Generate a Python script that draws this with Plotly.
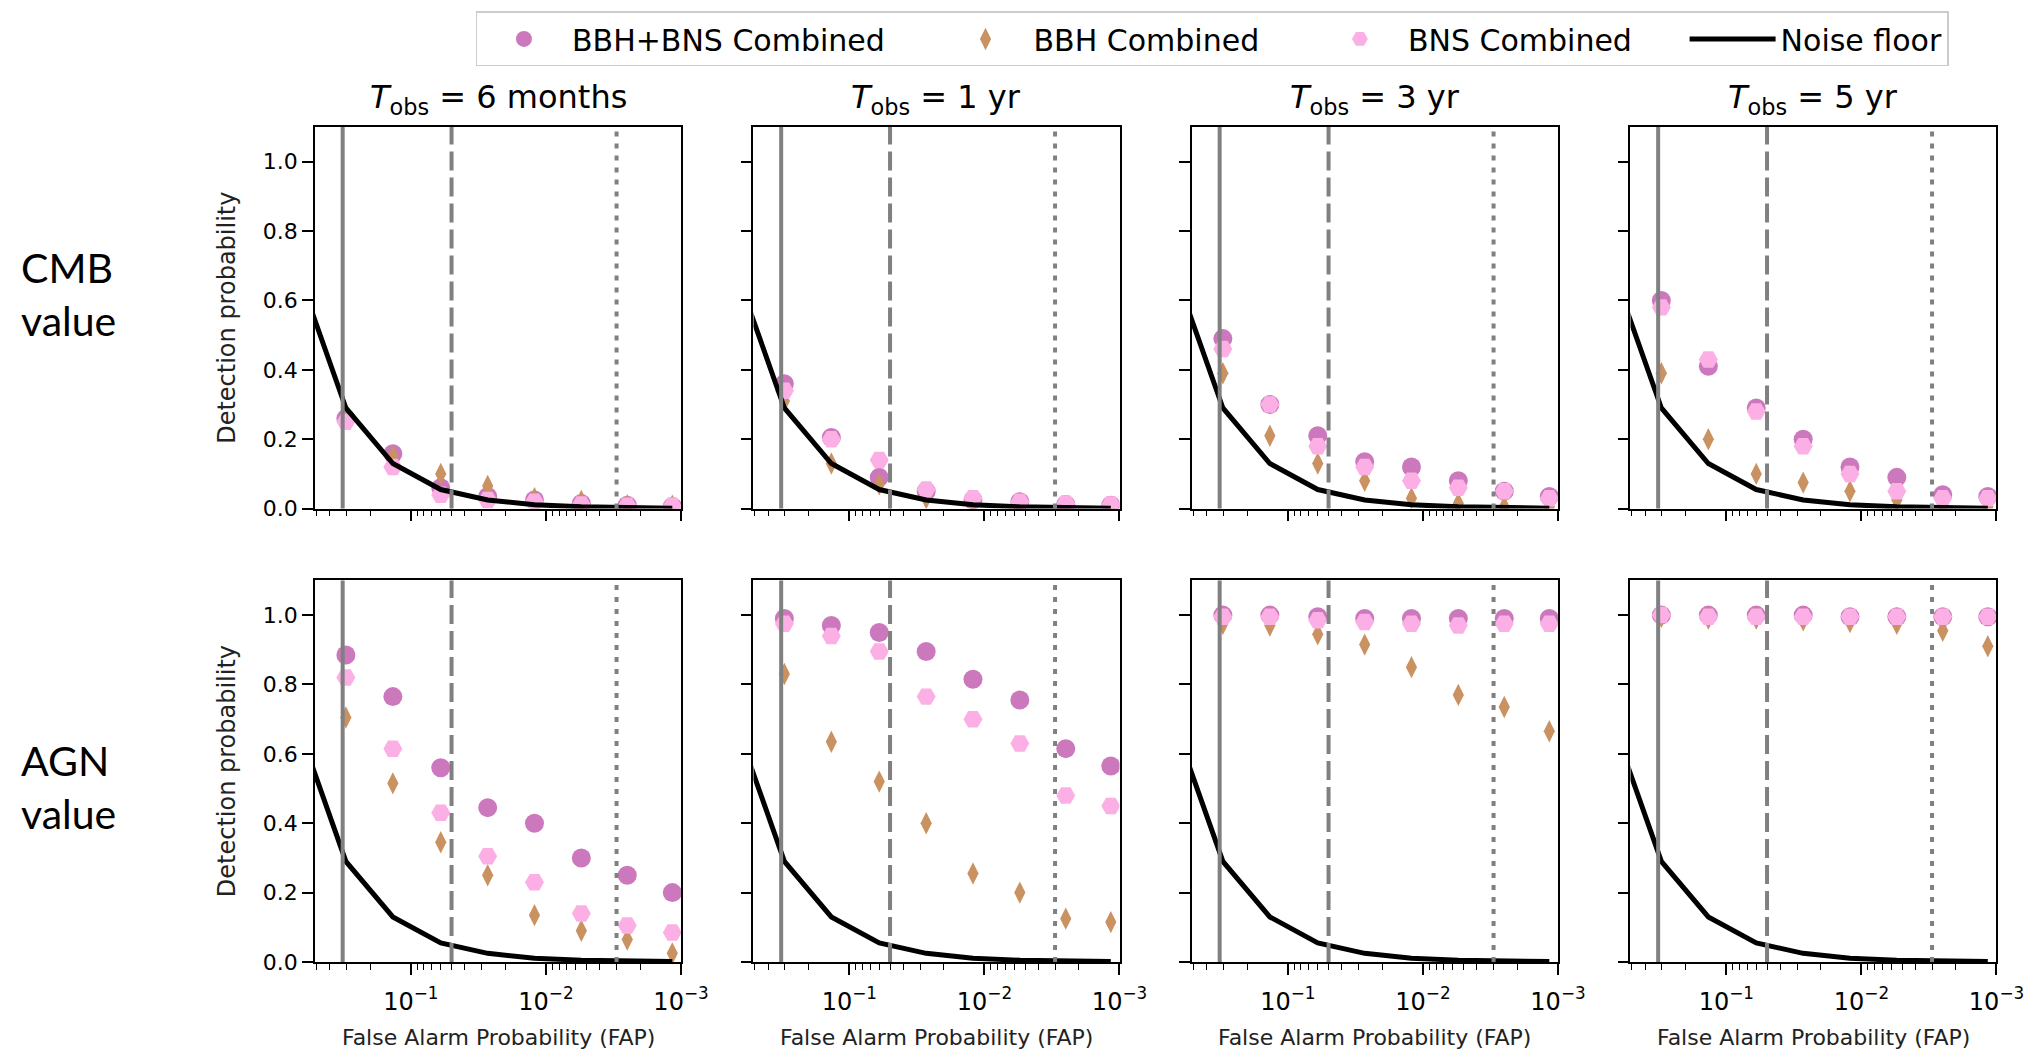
import plotly.graph_objects as go

# ---------------- data ----------------
FAP = [0.303, 0.136, 0.0601, 0.0270, 0.01216, 0.00547, 0.0025, 0.00116]
NOISE_FAP = [0.67, 0.303, 0.136, 0.0601, 0.0270, 0.01216, 0.00547, 0.0025, 0.00116]
NOISE_DP = [0.67, 0.29, 0.13, 0.055, 0.025, 0.011, 0.005, 0.0025, 0.0012]

TOBS_LABELS = ["6 months", "1 yr", "3 yr", "5 yr"]
ROW_LABELS = ["CMB<br>value", "AGN<br>value"]
SERIES_NAMES = ["BBH+BNS Combined", "BBH Combined", "BNS Combined", "Noise floor"]
SIGMA_FAP = [0.32, 0.05, 0.003]

# CMB row, one list per observation time
CMB_BBH_BNS = [
    [0.26, 0.158, 0.06, 0.035, 0.025, 0.015, 0.010, 0.006],
    [0.36, 0.205, 0.09, 0.05, 0.025, 0.02, 0.012, 0.010],
    [0.49, 0.30, 0.21, 0.135, 0.12, 0.08, 0.05, 0.035],
    [0.60, 0.41, 0.29, 0.20, 0.12, 0.09, 0.04, 0.035],
]
CMB_BBH = [
    [0.27, 0.15, 0.10, 0.065, 0.03, 0.022, 0.010, 0.008],
    [0.31, 0.13, 0.07, 0.03, 0.015, 0.010, 0.005, 0.005],
    [0.39, 0.21, 0.13, 0.08, 0.03, 0.015, 0.005, 0.005],
    [0.39, 0.20, 0.10, 0.075, 0.05, 0.025, 0.010, 0.005],
]
CMB_BNS = [
    [0.25, 0.12, 0.04, 0.025, 0.02, 0.012, 0.008, 0.008],
    [0.34, 0.20, 0.14, 0.055, 0.03, 0.02, 0.015, 0.012],
    [0.46, 0.30, 0.18, 0.12, 0.08, 0.06, 0.05, 0.03],
    [0.58, 0.43, 0.28, 0.18, 0.10, 0.05, 0.03, 0.03],
]
# AGN row
AGN_BBH_BNS = [
    [0.885, 0.765, 0.56, 0.445, 0.40, 0.30, 0.25, 0.20],
    [0.99, 0.97, 0.95, 0.895, 0.815, 0.755, 0.615, 0.565],
    [1.0, 1.0, 0.995, 0.99, 0.99, 0.99, 0.99, 0.99],
    [1.0, 1.0, 1.0, 1.0, 0.995, 0.995, 0.995, 0.995],
]
AGN_BBH = [
    [0.705, 0.515, 0.345, 0.25, 0.135, 0.09, 0.065, 0.025],
    [0.83, 0.635, 0.52, 0.40, 0.255, 0.20, 0.125, 0.115],
    [0.975, 0.97, 0.945, 0.915, 0.85, 0.77, 0.735, 0.665],
    [0.995, 0.99, 0.99, 0.985, 0.98, 0.975, 0.955, 0.91],
]
AGN_BNS = [
    [0.82, 0.615, 0.43, 0.305, 0.23, 0.14, 0.105, 0.085],
    [0.975, 0.94, 0.895, 0.765, 0.70, 0.63, 0.48, 0.45],
    [0.995, 0.995, 0.985, 0.98, 0.975, 0.97, 0.975, 0.975],
    [1.0, 0.995, 0.995, 0.995, 0.995, 0.995, 0.995, 0.995],
]

X_TICKVALS = [0.1, 0.01, 0.001]
X_TICKTEXT = ["10<sup>\u22121</sup>", "10<sup>\u22122</sup>", "10<sup>\u22123</sup>"]
Y_TICKVALS = [0.0, 0.2, 0.4, 0.6, 0.8, 1.0]
MINOR_TICKS = [m * d for d in [0.1, 0.01, 0.001] for m in range(2, 10)]

# ---------------- style ----------------
C_BOTH = "#cc78bc"
C_BBH = "#ca9161"
C_BNS = "#fbafe4"
FONT = "DejaVu Sans"
PAD = "\u00a0" * 5  # extra spacing between legend entries

COL_W = 0.2176
COL_G = 0.0431
ROW_DOMAINS = [[0.543, 1.0], [0.0, 0.457]]

fig = go.Figure()
rows_data = [(CMB_BBH_BNS, CMB_BBH, CMB_BNS), (AGN_BBH_BNS, AGN_BBH, AGN_BNS)]

layout_axes = {}
shapes = []
annotations = []
for r in range(2):
    for c in range(4):
        idx = r * 4 + c + 1
        xa = "x" if idx == 1 else f"x{idx}"
        ya = "y" if idx == 1 else f"y{idx}"
        both, bbh, bns = rows_data[r]
        first = (idx == 1)
        fig.add_trace(go.Scatter(
            x=FAP, y=both[c], mode="markers", name=SERIES_NAMES[0] + PAD,
            marker=dict(symbol="circle", size=19, color=C_BOTH),
            xaxis=xa, yaxis=ya, showlegend=first, legendgroup="a"))
        fig.add_trace(go.Scatter(
            x=FAP, y=bbh[c], mode="markers", name=SERIES_NAMES[1] + PAD,
            marker=dict(symbol="diamond-tall", size=16, color=C_BBH),
            xaxis=xa, yaxis=ya, showlegend=first, legendgroup="b"))
        fig.add_trace(go.Scatter(
            x=FAP, y=bns[c], mode="markers", name=SERIES_NAMES[2] + PAD,
            marker=dict(symbol="hexagon2", size=19, color=C_BNS),
            xaxis=xa, yaxis=ya, showlegend=first, legendgroup="c"))
        fig.add_trace(go.Scatter(
            x=NOISE_FAP, y=NOISE_DP, mode="lines", name=SERIES_NAMES[3],
            line=dict(color="black", width=5),
            xaxis=xa, yaxis=ya, showlegend=first, legendgroup="d"))

        x0 = c * (COL_W + COL_G)
        xkey = "xaxis" if idx == 1 else f"xaxis{idx}"
        ykey = "yaxis" if idx == 1 else f"yaxis{idx}"
        layout_axes[xkey] = dict(
            type="log", range=[-0.29, -3], domain=[x0, x0 + COL_W], anchor=ya,
            showline=True, linecolor="black", linewidth=1.5, mirror=True,
            showgrid=False, zeroline=False,
            tickmode="array", tickvals=X_TICKVALS, ticktext=X_TICKTEXT,
            ticks="outside", ticklen=11, tickwidth=1.5, tickcolor="black",
            showticklabels=(r == 1), ticklabelstandoff=6,
            tickfont=dict(family=FONT, size=24, color="black"),
            minor=dict(tickmode="array", tickvals=MINOR_TICKS, ticks="outside",
                       ticklen=6, tickwidth=1.2, tickcolor="black", showgrid=False),
        )
        layout_axes[ykey] = dict(
            range=[0, 1.1], domain=ROW_DOMAINS[r], anchor=xa,
            showline=True, linecolor="black", linewidth=1.5, mirror=True,
            showgrid=False, zeroline=False,
            tickmode="array", tickvals=Y_TICKVALS, tickformat=".1f",
            ticks="outside", ticklen=11, tickwidth=1.5, tickcolor="black",
            showticklabels=(c == 0),
            tickfont=dict(family=FONT, size=22, color="black"),
        )
        # vertical significance lines
        for v, dash in zip(SIGMA_FAP, ["solid", "19px,7px", "5px,7px"]):
            shapes.append(dict(type="line", xref=xa, yref=f"{ya} domain",
                               x0=v, x1=v, y0=0, y1=1, layer="above",
                               line=dict(color="#808080", width=4, dash=dash)))
        if r == 1:
            annotations.append(dict(
                text="False Alarm Probability (FAP)", xref="paper", yref="paper",
                x=x0 + COL_W / 2, y=-0.0907, xanchor="center", yanchor="middle",
                showarrow=False, font=dict(family=FONT, size=22, color="#222")))
        if r == 0:
            annotations.append(dict(
                text=f"<i>T</i><sub>obs</sub> = {TOBS_LABELS[c]}", xref="paper", yref="paper",
                x=x0 + COL_W / 2, y=1.0, xanchor="center", yanchor="bottom", yshift=5,
                showarrow=False, font=dict(family=FONT, size=32, color="black")))
        if c == 0:
            yc = sum(ROW_DOMAINS[r]) / 2
            annotations.append(dict(
                text="Detection probability", xref="paper", yref="paper",
                x=-0.0523, y=yc, xanchor="center", yanchor="middle", textangle=-90,
                showarrow=False, font=dict(family=FONT, size=24, color="#222")))

annotations.append(dict(text=ROW_LABELS[0], xref="paper", yref="paper",
                        x=-0.176, y=0.80, xanchor="left", yanchor="middle", align="left",
                        showarrow=False, font=dict(family="Lato", size=41, color="black")))
annotations.append(dict(text=ROW_LABELS[1], xref="paper", yref="paper",
                        x=-0.176, y=0.21, xanchor="left", yanchor="middle", align="left",
                        showarrow=False, font=dict(family="Lato", size=41, color="black")))

fig.update_layout(
    width=2037, height=1054,
    margin=dict(l=315, r=40, t=124, b=92),
    paper_bgcolor="white", plot_bgcolor="white",
    font=dict(family=FONT, color="black"),
    shapes=shapes, annotations=annotations,
    legend=dict(orientation="h", x=0.0957, y=1.1384, xanchor="left", yanchor="top",
                bordercolor="#cccccc", borderwidth=1.5, bgcolor="white",
                font=dict(family=FONT, size=30, color="black"),
                itemsizing="trace", itemwidth=86),
    **layout_axes,
)

fig.write_html("out.html")
